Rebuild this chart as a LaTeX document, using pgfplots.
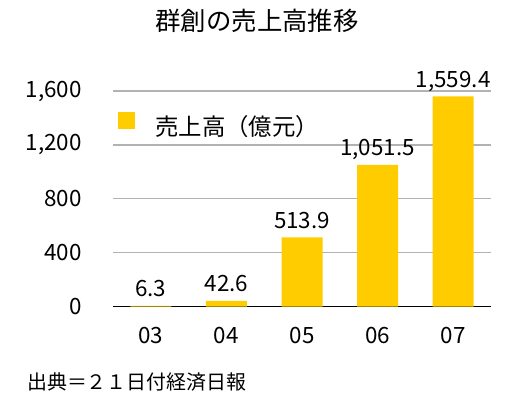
\documentclass[border=0pt]{standalone}
\usepackage{fontspec}
\setmainfont{Noto Sans CJK JP}
\usepackage{pgfplots}
\pgfplotsset{compat=1.18}
\definecolor{barc}{RGB}{255,204,0}
\definecolor{gridc}{RGB}{178,178,178}
\begin{document}
\begin{tikzpicture}[x=1bp,y=1bp]
\useasboundingbox (0,0) rectangle (528,399);
\begin{axis}[
  at={(113bp,92.3bp)}, anchor=south west, scale only axis,
  width=378bp, height=215.7bp,
  xmin=-0.5, xmax=4.5, ymin=0, ymax=1600,
  xtick={0,1,2,3,4}, xticklabels={03,04,05,06,07},
  ytick={0,400,800,1200,1600},
  /pgf/number format/1000 sep={,},
  /pgf/number format/assume math mode=true,
  axis line style={draw=none},
  major tick length=0pt,
  ymajorgrids, grid style={gridc, line width=1.2bp},
  extra y ticks={0}, extra y tick labels={},
  extra y tick style={grid style={black, line width=1.4bp}},
  xticklabel style={font=\fontsize{22.5}{22.5}\selectfont, anchor=base, inner sep=0pt, yshift=-36.6bp},
  yticklabel style={font=\fontsize{22.5}{22.5}\selectfont, anchor=east, inner sep=0pt, xshift=-31bp},
  ybar, bar width=41bp,
  nodes near coords={\pgfmathprintnumber[fixed,fixed zerofill,precision=1,1000 sep={,},assume math mode=true]{\pgfplotspointmeta}},
  nodes near coords style={font=\fontsize{22.5}{22.5}\selectfont, anchor=base, inner sep=0pt, yshift=9bp},
  legend style={at={(0.0132,0.845)}, anchor=west, draw=none, fill=none, inner sep=0pt,
    font=\fontsize{23.5}{23.5}\selectfont, nodes={inner sep=0pt}, column sep=20bp},
  legend image code/.code={\fill[barc] (0bp,-2.5bp) rectangle (17bp,14.5bp);},
]
\addplot[fill=barc, draw=none] coordinates {(0,6.3) (1,42.6) (2,513.9) (3,1051.5) (4,1559.4)};
\addlegendentry{売上高（億元）}
\end{axis}
\node[font=\fontsize{25.5}{25.5}\selectfont] at (257,378) {群創の売上高推移};
\node[anchor=west, inner sep=0pt, font=\fontsize{20}{20}\selectfont] at (27,17.3) {出典＝２１日付経済日報};
\end{tikzpicture}
\end{document}
